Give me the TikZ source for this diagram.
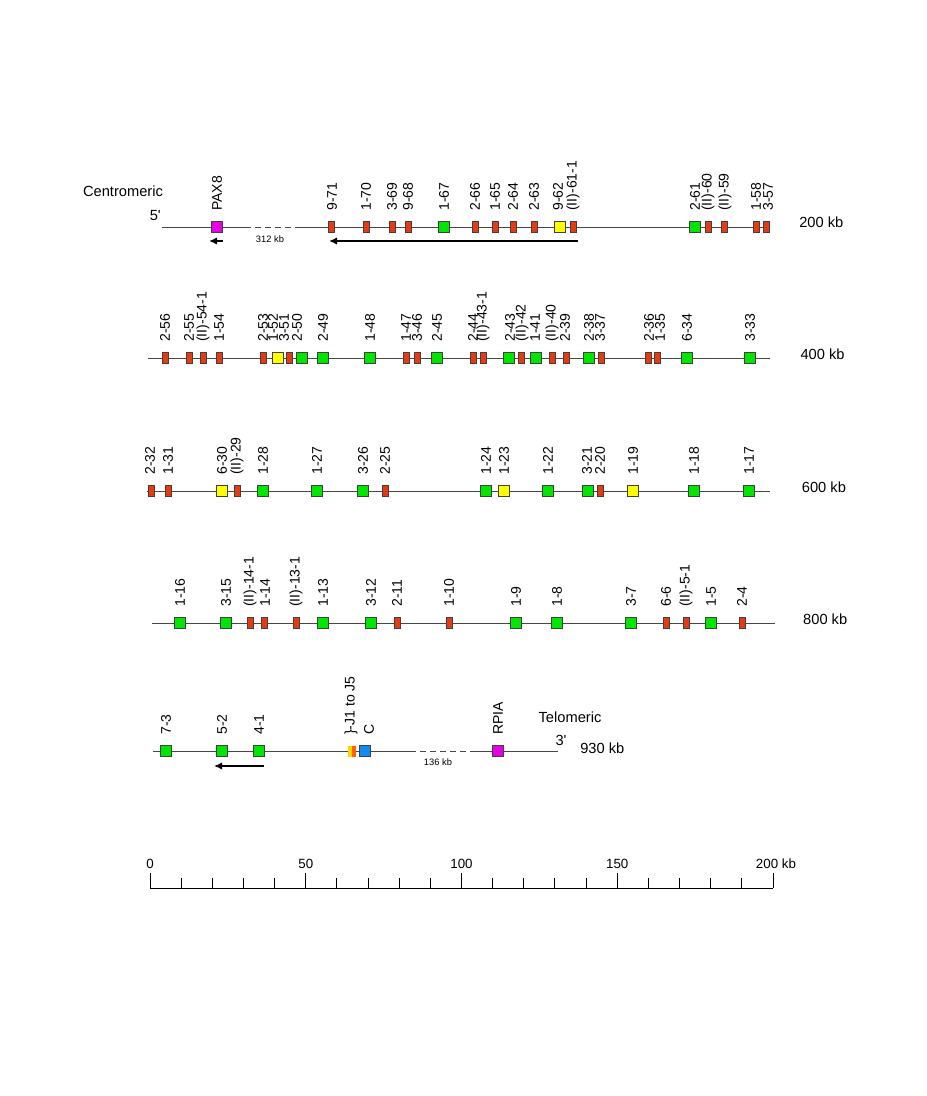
\documentclass[tikz,border=0pt]{standalone}
\usepackage{fontspec}
\setmainfont{Liberation Sans}
\usetikzlibrary{arrows.meta}

\definecolor{pseudored}{RGB}{232,58,16}
\definecolor{funcgreen}{RGB}{0,230,0}
\definecolor{orfyellow}{RGB}{255,255,0}
\definecolor{flankmag}{RGB}{230,0,230}
\definecolor{cblue}{RGB}{16,140,240}
\definecolor{jorange}{RGB}{255,100,0}
\definecolor{jyellow}{RGB}{255,210,0}
\definecolor{chromgray}{RGB}{70,70,70}

\tikzset{
  seg/.style   = {draw=black!75, line width=0.5pt, inner sep=0pt, minimum height=8.25pt},
  fun/.style   = {seg, fill=funcgreen, minimum width=8.25pt},
  orf/.style   = {seg, fill=orfyellow, minimum width=8.25pt},
  pse/.style   = {seg, fill=pseudored, minimum width=4.5pt},
  flank/.style = {seg, fill=flankmag, minimum width=8.25pt},
  cbox/.style  = {seg, fill=cblue, minimum width=8.25pt},
  gname/.style = {rotate=90, anchor=west, inner sep=0pt, font=\fontsize{10.5}{12}\selectfont},
  chrom/.style = {draw=chromgray, line width=0.75pt},
  gap/.style   = {chrom, dash pattern=on 4.5pt off 3pt},
  dir/.style   = {draw=black, line width=1.4pt, -{Latex[length=6pt,width=5.5pt]}},
  txt/.style   = {inner sep=0pt, font=\fontsize{11}{13}\selectfont},
  kbtxt/.style = {inner sep=0pt, font=\fontsize{7}{8}\selectfont},
  sctxt/.style = {inner sep=0pt, font=\fontsize{10}{12}\selectfont},
}

\begin{document}
\begin{tikzpicture}[x=0.75pt,y=-0.75pt]
	\useasboundingbox (0,0) rectangle (926,1096);
	%%%%%%%%%%%%%%%%% chromosome lines %%%%%%%%%%%%%%%%%%%
	% row;point  s = start, a/b = gap, e = end
	\coordinate (1;s) at (162,227); \coordinate (1;a) at (245,227);
	\coordinate (1;b) at (297,227); \coordinate (1;e) at (768,227);
	\coordinate (2;s) at (148,358); \coordinate (2;e) at (770,358);
	\coordinate (3;s) at (147,491); \coordinate (3;e) at (770,491);
	\coordinate (4;s) at (152,623); \coordinate (4;e) at (775,623);
	\coordinate (5;s) at (153,751); \coordinate (5;a) at (410,751);
	\coordinate (5;b) at (470,751); \coordinate (5;e) at (558,751);
	
	\draw[chrom] (1;s) -- (1;a);  \draw[gap] (1;a) -- (1;b);  \draw[chrom] (1;b) -- (1;e);
	\foreach \r in {2,3,4} {\draw[chrom] (\r;s) -- (\r;e);}
	\draw[chrom] (5;s) -- (5;a);  \draw[gap] (5;a) -- (5;b);  \draw[chrom] (5;b) -- (5;e);
	
	%%%%%%%%%%%%%%%%% genes %%%%%%%%%%%%%%%%%%%%%%%%%%%%%%
	%  box x / label x / name / kind
	\node[flank] (pax8) at (217,227) {};
	\node[gname] (lpax8) at (217,211) {PAX8};
	\foreach \x/\lx/\g/\t [count=\n from 1] in
	{331/332/9-71/pse,366/366/1-70/pse,392/392/3-69/pse,408/408/9-68/pse,
	 444/444/1-67/fun,475/475/2-66/pse,495/495/1-65/pse,513/513/2-64/pse,
	 534/534/2-63/pse,560/558/9-62/orf,573/573/{(II)-61-1}/pse,695/695/2-61/fun,
	 708/708/{(II)-60}/pse,724/725/{(II)-59}/pse,756/756/1-58/pse,766/768/3-57/pse}
	{\node[\t] (1;\n) at (\x,227) {}; \node[gname] (l1;\n) at (\lx,211) {\g};}
	
	\foreach \x/\lx/\g/\t [count=\n from 1] in
	{165/165/2-56/pse,189/189/2-55/pse,203/203/{(II)-54-1}/pse,219/219/1-54/pse,
	 263/263/2-53/pse,278/273/1-52/orf,289/284/3-51/pse,302/297/2-50/fun,
	 323/323/2-49/fun,370/370/1-48/fun,406/406/1-47/pse,417/417/3-46/pse,
	 437/437/2-45/fun,473/473/2-44/pse,483/483/{(II)-43-1}/pse,509/510/2-43/fun,
	 521/522/{(II)-42}/pse,536/535/1-41/fun,552/552/{(II)-40}/pse,566/565/2-39/pse,
	 589/589/2-38/fun,601/600/3-37/pse,648/649/2-36/pse,657/660/1-35/pse,
	 687/687/6-34/fun,750/750/3-33/fun}
	{\node[\t] (2;\n) at (\x,358) {}; \node[gname] (l2;\n) at (\lx,342) {\g};}
	
	\foreach \x/\lx/\g/\t [count=\n from 1] in
	{151/150/2-32/pse,168/168/1-31/pse,222/222/6-30/orf,237/237/{(II)-29}/pse,
	 263/263/1-28/fun,317/317/1-27/fun,363/363/3-26/fun,385/385/2-25/pse,
	 486/486/1-24/fun,504/504/1-23/orf,548/548/1-22/fun,588/587/3-21/fun,
	 600/600/2-20/pse,633/633/1-19/orf,694/694/1-18/fun,749/749/1-17/fun}
	{\node[\t] (3;\n) at (\x,491) {}; \node[gname] (l3;\n) at (\lx,475) {\g};}
	
	\foreach \x/\lx/\g/\t [count=\n from 1] in
	{180/180/1-16/fun,226/226/3-15/fun,250/250/{(II)-14-1}/pse,264/265/1-14/pse,
	 296/296/{(II)-13-1}/pse,323/323/1-13/fun,371/371/3-12/fun,397/397/2-11/pse,
	 449/449/1-10/pse,516/516/1-9/fun,557/557/1-8/fun,631/631/3-7/fun,
	 666/666/6-6/pse,686/686/{(II)-5-1}/pse,711/711/1-5/fun,742/742/2-4/pse}
	{\node[\t] (4;\n) at (\x,623) {}; \node[gname] (l4;\n) at (\lx,607) {\g};}
	
	\foreach \x/\lx/\g/\t [count=\n from 1] in
	{166/166/7-3/fun,222/222/5-2/fun,259/259/4-1/fun,365/369/C/cbox,498/498/RPIA/flank}
	{\node[\t] (5;\n) at (\x,751) {}; \node[gname] (l5;\n) at (\lx,735) {\g};}
	% J segments
	\node[inner sep=0pt, minimum height=8.25pt, minimum width=3.6pt, fill=jyellow] (jy) at (350,751) {};
	\node[inner sep=0pt, minimum height=8.25pt, minimum width=2.8pt, fill=jorange, anchor=west] (jo) at ([xshift=-0.4pt]jy.east) {};
	\node[gname] (lj) at (351,735) {\}-J1 to J5};
	
	%%%%%%%%%%%%%%%%% orientation %%%%%%%%%%%%%%%%%%%%%%%%
	\coordinate (pa) at (223,241); \coordinate (pb) at (209,241);
	\coordinate (va) at (578,241); \coordinate (vb) at (329,241);
	\coordinate (ka) at (264,766); \coordinate (kb) at (214,766);
	\draw[dir] (pa) -- (pb);
	\draw[dir] (va) -- (vb);
	\draw[dir] (ka) -- (kb);
	
	%%%%%%%%%%%%%%%%% texts %%%%%%%%%%%%%%%%%%%%%%%%%%%%%%
	\node[txt] (centro) at (123,191) {Centromeric};
	\node[txt, anchor=east] (five) at (161,216) {5\textquotesingle};
	\node[kbtxt] (gap1) at (270,239) {312 kb};
	\node[kbtxt] (gap5) at (438,762) {136 kb};
	\node[txt] (telo) at (570,717) {Telomeric};
	\node[txt] (three) at (561,740) {3\textquotesingle};
	\node[txt, anchor=west] (kb930) at (580,748) {930 kb};
	\foreach \y/\kb [count=\n from 1] in {222/200,354/400,487/600,619/800}
	{\node[txt] (kb\n) at (820+\n*1.3,\y) {\kb\ kb};}
	
	%%%%%%%%%%%%%%%%% scale %%%%%%%%%%%%%%%%%%%%%%%%%%%%%%
	\coordinate (s0) at (150,888); \coordinate (s200) at (773,888);
	\draw[black, line width=0.75pt] (s0) -- (s200);
	\foreach \k in {0,...,20} {
		\pgfmathsetmacro\tl{mod(\k,5)==0 ? 15 : 10}
		\draw[black, line width=0.75pt] (150+\k*31.15,888) -- ++(0,-\tl);}
	\foreach \v [count=\n from 0] in {0,50,100,150}
	{\node[sctxt] (sc\n) at (150+\n*155.75,864) {\v};}
	\node[sctxt] (sc4) at (776,864) {200 kb};
\end{tikzpicture}
\end{document}
